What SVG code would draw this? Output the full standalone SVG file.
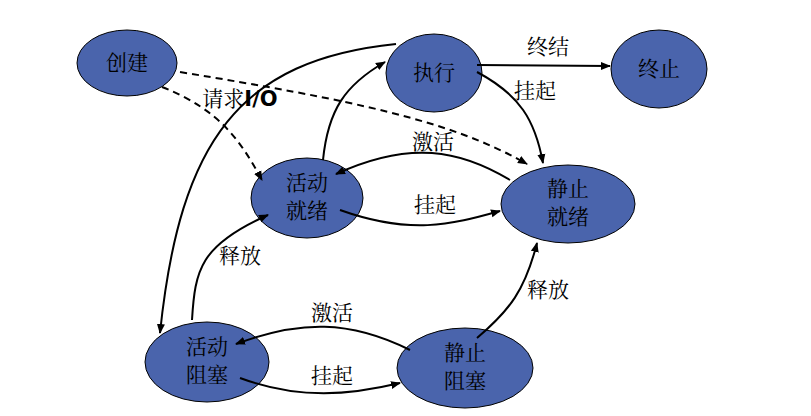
<svg xmlns="http://www.w3.org/2000/svg" width="811" height="416" viewBox="0 0 811 416">
<style>
.n{fill:#4a64ac;stroke:#000;stroke-width:1}
.t{font-family:"Noto Serif CJK SC","Noto Sans CJK SC",serif;font-size:21px;fill:#000;text-anchor:middle}
.c path{fill:none;stroke:#000;stroke-width:2}
.d{stroke-dasharray:7 5}
</style>
<defs><marker id="a" viewBox="0 0 10 10" refX="9" refY="5" markerWidth="5" markerHeight="5" orient="auto"><path d="M0,1 L10,5 L0,9 Z" fill="#000"/></marker></defs>
<rect width="811" height="416" fill="#fff"/>
<g id="n1"><ellipse class="n" cx="127" cy="63" rx="50" ry="33"/><text class="t" x="127" y="70">创建</text></g>
<g id="n2"><ellipse class="n" cx="434" cy="73" rx="48" ry="39"/><text class="t" x="434" y="80">执行</text></g>
<g id="n3"><ellipse class="n" cx="659" cy="69" rx="48" ry="39"/><text class="t" x="659" y="76">终止</text></g>
<g id="n4"><ellipse class="n" cx="307" cy="198" rx="56" ry="40"/><text class="t" x="307" y="190">活动</text><text class="t" x="307" y="218">就绪</text></g>
<g id="n5"><ellipse class="n" cx="568" cy="204" rx="67" ry="39"/><text class="t" x="568" y="196">静止</text><text class="t" x="568" y="224">就绪</text></g>
<g id="n6"><ellipse class="n" cx="207" cy="362" rx="62" ry="40"/><text class="t" x="207" y="354">活动</text><text class="t" x="207" y="382">阻塞</text></g>
<g id="n7"><ellipse class="n" cx="465" cy="368" rx="68" ry="40"/><text class="t" x="465" y="360">静止</text><text class="t" x="465" y="388">阻塞</text></g>
<g class="c" id="connectors">
<path d="M477,65 L610,66" marker-end="url(#a)"/>
<path d="M477,72 C520,95 535,120 543,163" marker-end="url(#a)"/>
<path d="M396,44 C240,60 180,140 160,333" marker-end="url(#a)"/>
<path d="M323,160 C328,110 345,85 385,62" marker-end="url(#a)"/>
<path class="d" d="M162,87 C220,110 240,140 262,180" marker-end="url(#a)"/>
<path class="d" d="M180,72 C350,100 450,120 527,164" marker-end="url(#a)"/>
<path d="M510,180 C460,150 410,140 336,174" marker-end="url(#a)"/>
<path d="M340,210 C410,235 450,225 500,211" marker-end="url(#a)"/>
<path d="M192,320 C195,270 200,245 268,215" marker-end="url(#a)"/>
<path d="M477,338 C510,310 525,290 537,243" marker-end="url(#a)"/>
<path d="M410,350 C350,320 300,320 236,344" marker-end="url(#a)"/>
<path d="M240,378 C300,400 350,395 400,383" marker-end="url(#a)"/>
</g>
<g id="labels">
<text class="t" x="548" y="54">终结</text>
<text class="t" x="535" y="98">挂起</text>
<text class="t" x="433" y="149">激活</text>
<text class="t" x="435" y="212">挂起</text>
<text class="t" x="240" y="263">释放</text>
<text class="t" x="548" y="297">释放</text>
<text class="t" x="332" y="320">激活</text>
<text class="t" x="332" y="383">挂起</text>
<text class="t" x="240" y="106">请求<tspan font-family="'DejaVu Sans',sans-serif" font-weight="bold">I/O</tspan></text>
</g>
</svg>
